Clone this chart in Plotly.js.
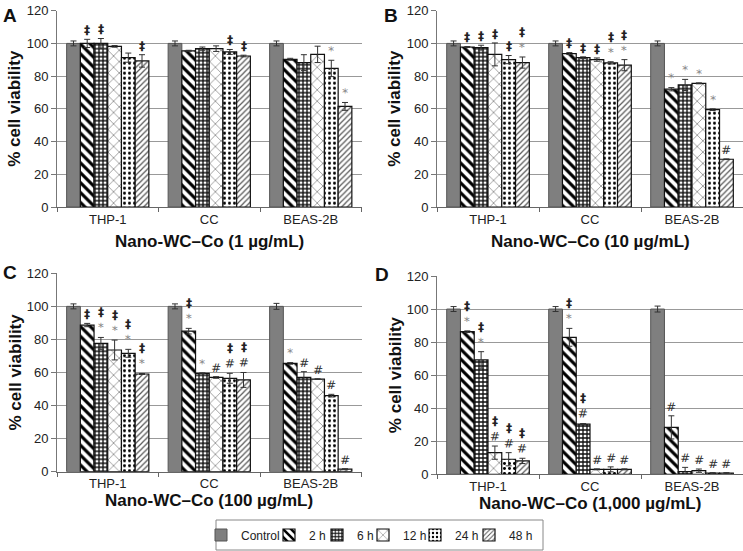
<!DOCTYPE html>
<html>
<head>
<meta charset="utf-8">
<script src="https://cdn.plot.ly/plotly-3.0.1.min.js"></script>
<style>html,body{margin:0;padding:0;background:#fff;}#chart{width:743px;height:551px;}</style>
</head>
<body>
<div id="chart"></div>
<script>
// ---------- DATA ----------
const categories = ['THP-1', 'CC', 'BEAS-2B'];
const seriesNames = ['Control', '2 h', '6 h', '12 h', '24 h', '48 h'];
const panelLetters = ['A', 'B', 'C', 'D'];
const panelTitles = ['Nano-WC–Co (1 µg/mL)', 'Nano-WC–Co (10 µg/mL)', 'Nano-WC–Co (100 µg/mL)', 'Nano-WC–Co (1,000 µg/mL)'];
const yTitle = '% cell viability';

// rows: Control, 2 h, 6 h, 12 h, 24 h, 48 h ; columns: THP-1, CC, BEAS-2B
const viabilityA = [[100,100,100],[100,95.5,90.3],[100,96.8,88.3],[98.2,96.8,93.3],[91.3,94.8,84.7],[89.3,92.3,61.5]];
const errorA     = [[1.5,1.5,1.5],[2.5,0.3,0.6],[3,1,4.8],[0.5,1.7,5],[2.8,1.5,5],[3.8,0.5,2.4]];
const signifA    = [['','',''],['‡','',''],['‡','',''],['','',''],['','‡','*'],['‡','‡','*']];

const viabilityB = [[100,100,100],[97.8,93.8,72],[97.4,91.3,74.6],[93.3,90.1,75.6],[90.1,88.1,59.5],[88.3,86.7,29.2]];
const errorB     = [[1.5,1.5,1.5],[0.3,0.6,1],[1.5,0.5,3.4],[7,1,0.3],[2.5,0.7,0.5],[3.4,3.4,0.2]];
const signifB    = [['','',''],['‡','‡','*'],['‡','‡','*'],['‡','‡','*'],['‡','‡*','*'],['‡*','‡*','#']];

const viabilityC = [[100,100,100],[88.7,85,65.5],[77.6,59.5,57],[73.6,57,56],[71.6,56.5,46],[59.1,55.5,1.5]];
const errorC     = [[1.5,1.5,1.8],[1,1.7,0.5],[3.6,0.3,3.5],[6,0.5,0.2],[2.4,3,0.8],[0.3,4.5,0.3]];
const signifC    = [['','',''],['‡','‡*','*'],['‡*','*','#'],['‡*','#','#'],['‡*','‡#','#'],['‡*','‡#','#']];

const viabilityD = [[100,100,100],[86.3,82.9,28.4],[69.2,30.4,1.6],[13.1,3,2.2],[9.1,3,0.8],[8.1,3,0.8]];
const errorD     = [[1.5,1.5,1.8],[0.5,5.4,7],[5,0.3,2.6],[4,0.3,1],[4,1.5,0.2],[1.6,0.3,0.2]];
const signifD    = [['','',''],['‡*','‡*','#'],['‡*','‡#','#'],['‡#','#','#'],['‡#','#','#'],['‡#','#','#']];

// ---------- STYLE ----------
const panels = [
  {vals: viabilityA, errs: errorA, sig: signifA},
  {vals: viabilityB, errs: errorB, sig: signifB},
  {vals: viabilityC, errs: errorC, sig: signifC},
  {vals: viabilityD, errs: errorD, sig: signifD}
];
const W = 743, H = 551;
const px = v => v / W;
const py = v => (H - v) / H;
const boxes = [
  {x0: 57, x1: 361.5, y0: 10.7, y1: 207},
  {x0: 437, x1: 743, y0: 10.7, y1: 207},
  {x0: 57, x1: 361.5, y0: 273.3, y1: 471.7},
  {x0: 437, x1: 743, y0: 276, y1: 474.3}
];
const letterPos = [{x: 1, y: 15}, {x: 382, y: 15}, {x: 1, y: 272}, {x: 373, y: 274}];
const xTitleY = [242, 242, 500, 503];
const bargap = 0.19;
const FONT = 'Liberation Sans, Arial, sans-serif';

const patterns = [
  null,
  {shape: '\\', size: 7, solidity: 0.45, fgcolor: '#000', bgcolor: '#fff', fillmode: 'replace'},
  {shape: '+', size: 4, solidity: 0.55, fgcolor: '#111', bgcolor: '#fff', fillmode: 'replace'},
  {shape: 'x', size: 8, solidity: 0.12, fgcolor: '#444', bgcolor: '#fff', fillmode: 'replace'},
  {shape: '.', size: 5, solidity: 0.28, fgcolor: '#000', bgcolor: '#fff', fillmode: 'replace'},
  {shape: '/', size: 4, solidity: 0.3, fgcolor: '#555', bgcolor: '#fff', fillmode: 'replace'}
];
const legendNames = ['legend', 'legend2', 'legend3', 'legend4', 'legend5', 'legend6'];
const legendX = [201, 269, 317, 363, 415, 469];

const symColor = {'‡': '#222', '*': '#888', '#': '#333'};
function sigText(s) {
  return s.split('').map(c => {
    const t = c === '‡' ? '<b>‡</b>' : c;
    return '<span style="color:' + symColor[c] + '">' + t + '</span>';
  }).join('<br>');
}

const traces = [];
const annotations = [];
const layout = {
  width: W, height: H,
  margin: {l: 0, r: 0, t: 0, b: 0},
  paper_bgcolor: '#fff', plot_bgcolor: '#fff',
  barmode: 'group', bargap: bargap, bargroupgap: 0,
  font: {family: FONT, color: '#222'},
  showlegend: true,
  shapes: [],
  annotations: annotations
};

panels.forEach((p, pi) => {
  const sfx = pi === 0 ? '' : String(pi + 1);
  const b = boxes[pi];
  layout['xaxis' + sfx] = {
    domain: [px(b.x0), px(b.x1)], anchor: 'y' + sfx,
    type: 'category', range: [-0.5, 2.5],
    showline: true, linecolor: '#666', linewidth: 1,
    ticks: 'outside', tickson: 'boundaries', ticklen: 4, tickcolor: '#666',
    tickfont: {size: 13, color: '#222', family: FONT},
    showgrid: false, zeroline: false, fixedrange: true
  };
  layout['yaxis' + sfx] = {
    domain: [py(b.y1), py(b.y0)], anchor: 'x' + sfx,
    range: [0, 120], tick0: 0, dtick: 20,
    showline: true, linecolor: '#777', linewidth: 1,
    ticks: 'outside', ticklen: 5, tickcolor: '#777',
    tickfont: {size: 13, color: '#222', family: FONT},
    showgrid: true, gridcolor: '#999', gridwidth: 1,
    zeroline: false, fixedrange: true
  };
  p.vals.forEach((vals, si) => {
    const tr = {
      type: 'bar', name: seriesNames[si],
      x: categories, y: vals,
      xaxis: 'x' + sfx, yaxis: 'y' + sfx,
      error_y: {type: 'data', array: p.errs[si], visible: true, color: '#333', thickness: 1, width: 3},
      legend: legendNames[si],
      showlegend: pi === 0,
      hoverinfo: 'skip'
    };
    if (si === 0) {
      tr.marker = {color: '#7f7f7f', line: {color: '#555', width: 1}};
    } else {
      tr.marker = {color: '#fff', pattern: patterns[si], line: {color: '#111', width: 1.2}};
    }
    traces.push(tr);
    // significance markers
    const bw = (1 - bargap) / seriesNames.length;
    vals.forEach((v, ci) => {
      const s = p.sig[si][ci];
      if (!s) return;
      annotations.push({
        xref: 'x' + sfx, yref: 'y' + sfx,
        x: ci + (si - (seriesNames.length - 1) / 2) * bw,
        y: v + p.errs[si][ci],
        text: sigText(s), showarrow: false,
        xanchor: 'center', yanchor: 'bottom', yshift: 0,
        textangle: 1,
        font: {size: 12, family: 'DejaVu Sans, sans-serif'}
      });
    });
  });
  // panel letter
  annotations.push({
    xref: 'paper', yref: 'paper', x: px(letterPos[pi].x), y: py(letterPos[pi].y),
    xanchor: 'left', yanchor: 'middle', showarrow: false,
    text: '<b>' + panelLetters[pi] + '</b>', font: {size: 19, color: '#111', family: FONT}
  });
  // x title
  annotations.push({
    xref: 'paper', yref: 'paper', x: px((b.x0 + b.x1) / 2), y: py(xTitleY[pi]),
    xanchor: 'center', yanchor: 'middle', showarrow: false,
    text: '<b>' + panelTitles[pi] + '</b>', font: {size: 17, color: '#111', family: FONT}
  });
  // y title
  annotations.push({
    xref: 'paper', yref: 'paper', x: px(b.x0 - 42), y: py((b.y0 + b.y1) / 2),
    xanchor: 'center', yanchor: 'middle', showarrow: false, textangle: -90,
    text: '<b>' + yTitle + '</b>', font: {size: 17, color: '#111', family: FONT}
  });
});

legendNames.forEach((ln, i) => {
  layout[ln] = {
    x: px(legendX[i]), y: py(535), xanchor: 'left', yanchor: 'middle',
    orientation: 'h', bgcolor: 'rgba(0,0,0,0)', borderwidth: 0,
    font: {size: 12, color: '#222', family: FONT}
  };
});

layout.shapes.push({
  type: 'rect', xref: 'paper', yref: 'paper',
  x0: px(216), x1: px(543), y0: py(550), y1: py(520),
  line: {color: '#888', width: 1}, fillcolor: 'rgba(0,0,0,0)'
});

Plotly.newPlot('chart', traces, layout, {staticPlot: true, displayModeBar: false});
</script>
</body>
</html>
